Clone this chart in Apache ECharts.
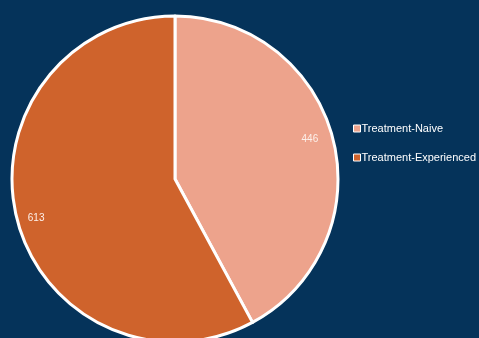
<!DOCTYPE html>
<html><head><meta charset="utf-8">
<script src="https://cdn.jsdelivr.net/npm/echarts@6/dist/echarts.min.js"></script>
<style>html,body{margin:0;padding:0;background:#05335a;}#c{width:479px;height:338px;}</style>
</head><body><div id="c"></div>
<script>
const categories = ['Treatment-Naive', 'Treatment-Experienced'];
const values = [446, 613];
const colors = ['#eda38c', '#cf632c'];

const data = categories.map((n, i) => ({ name: n, value: values[i], itemStyle: { color: colors[i] } }));
const chart = echarts.init(document.getElementById('c'));
chart.setOption({
  backgroundColor: '#05335a',
  animation: false,
  legend: {
    orient: 'vertical',
    left: 348, top: 118,
    itemWidth: 7, itemHeight: 7, itemGap: 18,
    icon: 'rect',
    itemStyle: { borderColor: '#fff', borderWidth: 1 },
    textStyle: { color: '#fff', fontSize: 11, padding: [0, 0, 0, -4], fontFamily: 'Liberation Sans, Arial, sans-serif' },
    data: categories
  },
  series: [
    {
      type: 'pie',
      center: [175, 179],
      radius: [0, 163],
      startAngle: 90,
      clockwise: true,
      data: data,
      itemStyle: { borderColor: '#fff', borderWidth: 3 },
      label: { show: false },
      labelLine: { show: false },
      emphasis: { disabled: true }
    },
    {
      type: 'pie',
      center: [173, 179],
      radius: [116, 163],
      startAngle: 92,
      clockwise: true,
      silent: true,
      legendHoverLink: false,
      data: categories.map((n, i) => ({ name: n, value: values[i] })),
      itemStyle: { color: 'rgba(0,0,0,0)', borderWidth: 0 },
      label: { show: true, position: 'inside', formatter: '{c}', color: '#fdf0ea', fontSize: 10, fontFamily: 'Liberation Sans, Arial, sans-serif' },
      labelLine: { show: false },
      emphasis: { disabled: true }
    }
  ]
});
</script></body></html>
